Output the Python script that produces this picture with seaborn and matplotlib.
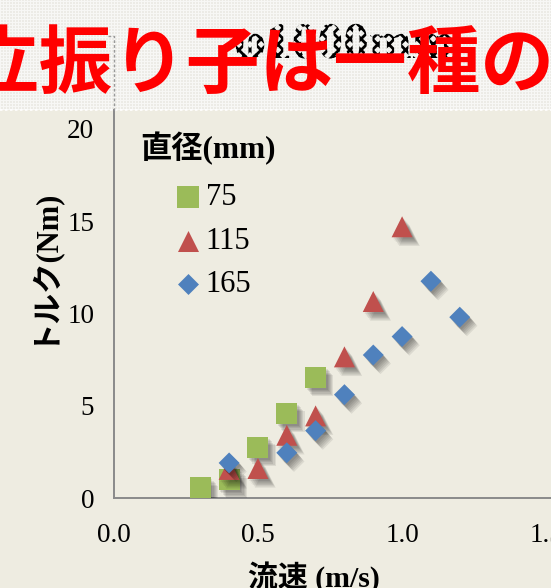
import numpy as np
import pandas as pd
import matplotlib
matplotlib.use("Agg")
import matplotlib.pyplot as plt
import matplotlib.patheffects as pe
from matplotlib.lines import Line2D
import seaborn as sns

# Flow speed (m/s) and torque (Nm) for three pendulum diameters
speed_75 = [0.3, 0.4, 0.5, 0.6, 0.7]
torque_75 = [0.55, 1.0, 2.75, 4.6, 6.55]

speed_115 = [0.4, 0.5, 0.6, 0.7, 0.8, 0.9, 1.0]
torque_115 = [1.55, 1.6, 3.4, 4.45, 7.65, 10.65, 14.7]

speed_165 = [0.4, 0.6, 0.7, 0.8, 0.9, 1.0, 1.1, 1.2]
torque_165 = [1.9, 2.45, 3.65, 5.6, 7.75, 8.75, 11.75, 9.8]

diameters = ["75", "115", "165"]
x_ticks = [0.0, 0.5, 1.0, 1.5]
x_tick_labels = ["0.0", "0.5", "1.0", "1.5"]
y_ticks = [0, 5, 10, 15, 20]
y_tick_labels = ["0", "5", "10", "15", "20"]

title_text = "立振り子は一種の"
overlay_text = "φ1000mm"
legend_title = "直径(mm)"
x_label = "流速 (m/s)"
y_label = "トルク(Nm)"

W, H = 551, 588
BG = "#EEECE1"
GREEN, RED, BLUE = "#9BBB59", "#C0504D", "#4F81BD"
AXIS_GRAY = "#8A8A8A"
MIXED = ["Liberation Serif", "Noto Sans CJK JP"]

sns.set_style("white")
plt.rcParams["font.family"] = ["Liberation Serif", "Noto Sans CJK JP", "DejaVu Sans"]
plt.rcParams["text.color"] = "black"
plt.rcParams["hatch.linewidth"] = 2.0

fig = plt.figure(figsize=(W / 100, H / 100), dpi=100, facecolor=BG)

def fx(px):
    return px / W

def fy(py):
    return 1 - py / H

# Patterned banner at the top
band_h = 110
ax_band = fig.add_axes([0, fy(band_h), 1, band_h / H])
ii, jj = np.mgrid[0:band_h, 0:W]
pattern = (((ii + jj) // 3) + ((ii - jj) // 3)) % 2
light = np.array([0.972, 0.970, 0.962])
dark = np.array([0.928, 0.925, 0.905])
img = np.where(pattern[..., None] == 0, light, dark)
ax_band.imshow(img, aspect="auto", interpolation="nearest")
ax_band.set_axis_off()

fig.add_artist(Line2D([fx(0), fx(W)], [fy(band_h), fy(band_h)],
                      transform=fig.transFigure, color="white", lw=1.2,
                      linestyle=(0, (1.5, 1.5))))
fig.add_artist(Line2D([fx(108), fx(114), fx(114)], [fy(36), fy(36), fy(band_h)],
                      transform=fig.transFigure, color="#9A9A9A", lw=1.0,
                      linestyle=(0, (2, 1.5))))

fig.text(fx(234), fy(58), overlay_text, fontsize=37, fontweight="bold",
         family=MIXED, ha="left", va="baseline", zorder=3,
         path_effects=[pe.PathPatchEffect(hatch="xxx", facecolor="none",
                                          edgecolor="black", linewidth=0)])
fig.text(fx(-34), fy(66), title_text, fontsize=53, fontweight="bold",
         family=["Noto Sans CJK JP"], color="#FF0000", ha="left", va="center",
         zorder=4)

# Scatter chart
x0, y0, y_top = 113.8, 498, 110
px_per_x = 288.3
px_per_y = 18.45
ax = fig.add_axes([fx(x0), fy(y0), (W - x0) / W, (y0 - y_top) / H])
ax.set_facecolor(BG)

df75 = pd.DataFrame({"speed": speed_75, "torque": torque_75})
df115 = pd.DataFrame({"speed": speed_115, "torque": torque_115})
df165 = pd.DataFrame({"speed": speed_165, "torque": torque_165})

shadow = [pe.SimplePatchShadow(offset=(o, -1.2 * o), shadow_rgbFace="black", alpha=0.08)
          for o in (1.2, 2.0, 2.8, 3.6, 4.4, 5.2)] + [pe.Normal()]

sns.scatterplot(data=df75, x="speed", y="torque", marker="s", s=229, color=GREEN,
                linewidth=0, ax=ax, label=diameters[0], zorder=3)
sns.scatterplot(data=df115, x="speed", y="torque", marker="^", s=229, color=RED,
                linewidth=0, ax=ax, label=diameters[1], zorder=4)
sns.scatterplot(data=df165, x="speed", y="torque", marker="D", s=114, color=BLUE,
                linewidth=0, ax=ax, label=diameters[2], zorder=5)
for coll in ax.collections:
    coll.set_path_effects(shadow)

ax.set_xlim(0, (W - x0) / px_per_x)
ax.set_ylim(0, (y0 - y_top) / px_per_y)
ax.set_xticks(x_ticks)
ax.set_xticklabels(x_tick_labels)
ax.set_yticks(y_ticks)
ax.set_yticklabels(y_tick_labels)
ax.set_xlabel("")
ax.set_ylabel("")
for side in ("top", "right"):
    ax.spines[side].set_visible(False)
for side in ("left", "bottom"):
    ax.spines[side].set_color(AXIS_GRAY)
    ax.spines[side].set_linewidth(1.4)
ax.tick_params(axis="both", which="major", direction="out", length=5,
               width=1.2, color=AXIS_GRAY, labelsize=19.5, labelcolor="black")
ax.tick_params(axis="x", pad=13)
ax.tick_params(axis="y", pad=9)
for lbl in ax.get_xticklabels() + ax.get_yticklabels():
    lbl.set_family(["Liberation Serif"])

# Legend
handles = list(ax.collections)
leg = ax.legend(handles, diameters, loc="upper left",
                bbox_to_anchor=(fx(173), fy(183)), bbox_transform=fig.transFigure,
                frameon=False, fontsize=22, handlelength=0.95, handletextpad=0.12,
                borderpad=0, borderaxespad=0, labelspacing=0.48, scatterpoints=1)
for h in leg.legend_handles:
    h.set_path_effects([])
for t in leg.get_texts():
    t.set_family(["Liberation Serif"])
    t.set_color("black")

fig.text(fx(140), fy(148), legend_title, fontsize=22.5, fontweight="bold",
         family=MIXED, ha="left", va="center", color="black")
fig.text(fx(314), fy(577), x_label, fontsize=21.5, fontweight="bold",
         family=MIXED, ha="center", va="center", color="black")
fig.text(fx(40), fy(264), y_label, fontsize=22, fontweight="bold",
         family=MIXED, ha="center", va="center", rotation=90, color="black")

fig.savefig("out.png", dpi=100, facecolor=BG)
